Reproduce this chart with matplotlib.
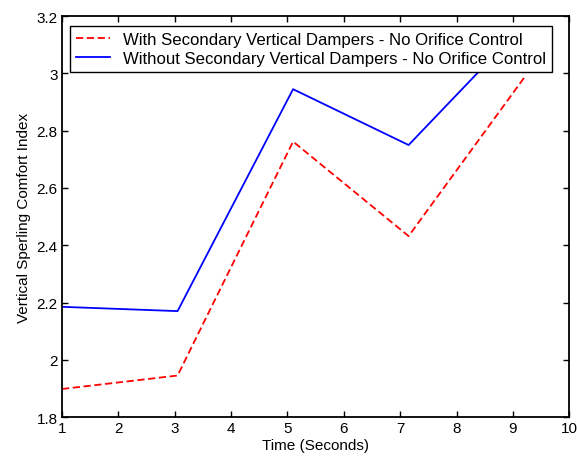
import matplotlib
matplotlib.use("Agg")
import matplotlib.pyplot as plt

time_with = [1, 3.05, 5.1, 7.15, 9.2]
with_dampers = [1.898, 1.945, 2.762, 2.432, 2.985]
time_without = [1, 3.05, 5.1, 7.15, 8.9]
without_dampers = [2.185, 2.17, 2.945, 2.75, 3.11]

xticks = [1, 2, 3, 4, 5, 6, 7, 8, 9, 10]
yticks = [1.8, 2.0, 2.2, 2.4, 2.6, 2.8, 3.0, 3.2]
ytick_labels = ["1.8", "2", "2.2", "2.4", "2.6", "2.8", "3", "3.2"]

plt.rcParams['font.family'] = ['Liberation Sans', 'DejaVu Sans']

fig = plt.figure(figsize=(5.77, 4.64), dpi=100)
ax = fig.add_axes([0.1075, 0.099, 0.879, 0.864])

ax.plot(time_with, with_dampers, color='red', linestyle=(0, (4, 2)), linewidth=1.3,
        label='With Secondary Vertical Dampers - No Orifice Control')
ax.plot(time_without, without_dampers, color='blue', linestyle='-', linewidth=1.3,
        label='Without Secondary Vertical Dampers - No Orifice Control')

ax.set_xlim(1, 10)
ax.set_ylim(1.8, 3.2)
ax.set_xticks(xticks)
ax.set_xticklabels([str(t) for t in xticks])
ax.set_yticks(yticks)
ax.set_yticklabels(ytick_labels)
ax.tick_params(direction='in', top=True, right=True, length=4, width=1, labelsize=11, pad=3)
for s in ax.spines.values():
    s.set_linewidth(1.3)

ax.set_xlabel('Time (Seconds)', fontsize=11, labelpad=2)
ax.set_ylabel('Vertical Sperling Comfort Index', fontsize=11, labelpad=4)

leg = ax.legend(loc='upper left', bbox_to_anchor=(0.016, 0.975), fontsize=12.1,
                frameon=True, fancybox=False, edgecolor='black', framealpha=1,
                borderpad=0.35, labelspacing=0.25, handlelength=2.0, handletextpad=0.8,
                borderaxespad=0)
leg.get_frame().set_linewidth(1.0)

fig.savefig('out.png', dpi=100)
